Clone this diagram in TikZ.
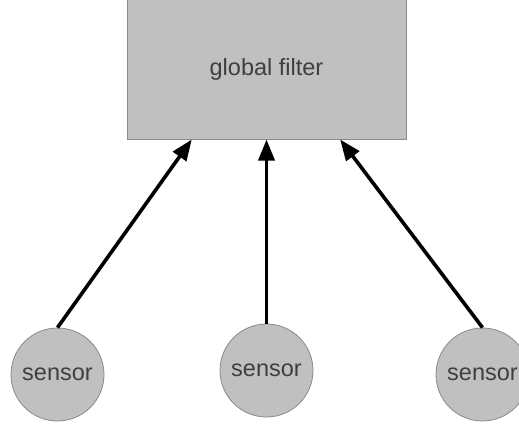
\documentclass[tikz,border=0pt]{standalone}
\usepackage{fontspec}
\setmainfont{Liberation Sans}
\usetikzlibrary{arrows.meta,calc}
\definecolor{boxfill}{HTML}{C0C0C0}
\definecolor{boxline}{HTML}{8A8A8A}
\definecolor{labeltext}{HTML}{3F3F3F}
\tikzset{
  filterbox/.style={rectangle, draw=boxline, fill=boxfill, line width=1pt,
    minimum width=279pt, minimum height=139pt, inner sep=0pt,
    text=labeltext, font=\fontsize{23.5}{26}\selectfont},
  sensornode/.style={circle, draw=boxline, fill=boxfill, line width=0.8pt,
    minimum size=93pt, inner sep=0pt,
    text=labeltext, font=\fontsize{23.5}{26}\selectfont},
  feed/.style={line width=3.6pt, -{Triangle[length=21pt,width=16pt]}}
}
\begin{document}
\begin{tikzpicture}[x=1pt,y=-1pt]
  \useasboundingbox (0,0) rectangle (519,425);
  \node[filterbox] (gf) at (266.5,69.5) {global filter};
  \node[sensornode] (s1) at (57.5,374.5) {sensor};
  \node[sensornode] (s2) at (266.5,370.5) {sensor};
  \node[sensornode] (s3) at (482.5,374.5) {sensor};
  \coordinate (t1) at ($(gf.south west)!0.233!(gf.south east)$);
  \coordinate (t3) at ($(gf.south west)!0.763!(gf.south east)$);
  \draw[feed] (s1.north) -- (t1);
  \draw[feed] (s2.north) -- (gf.south);
  \draw[feed] (s3.north) -- (t3);
\end{tikzpicture}
\end{document}
